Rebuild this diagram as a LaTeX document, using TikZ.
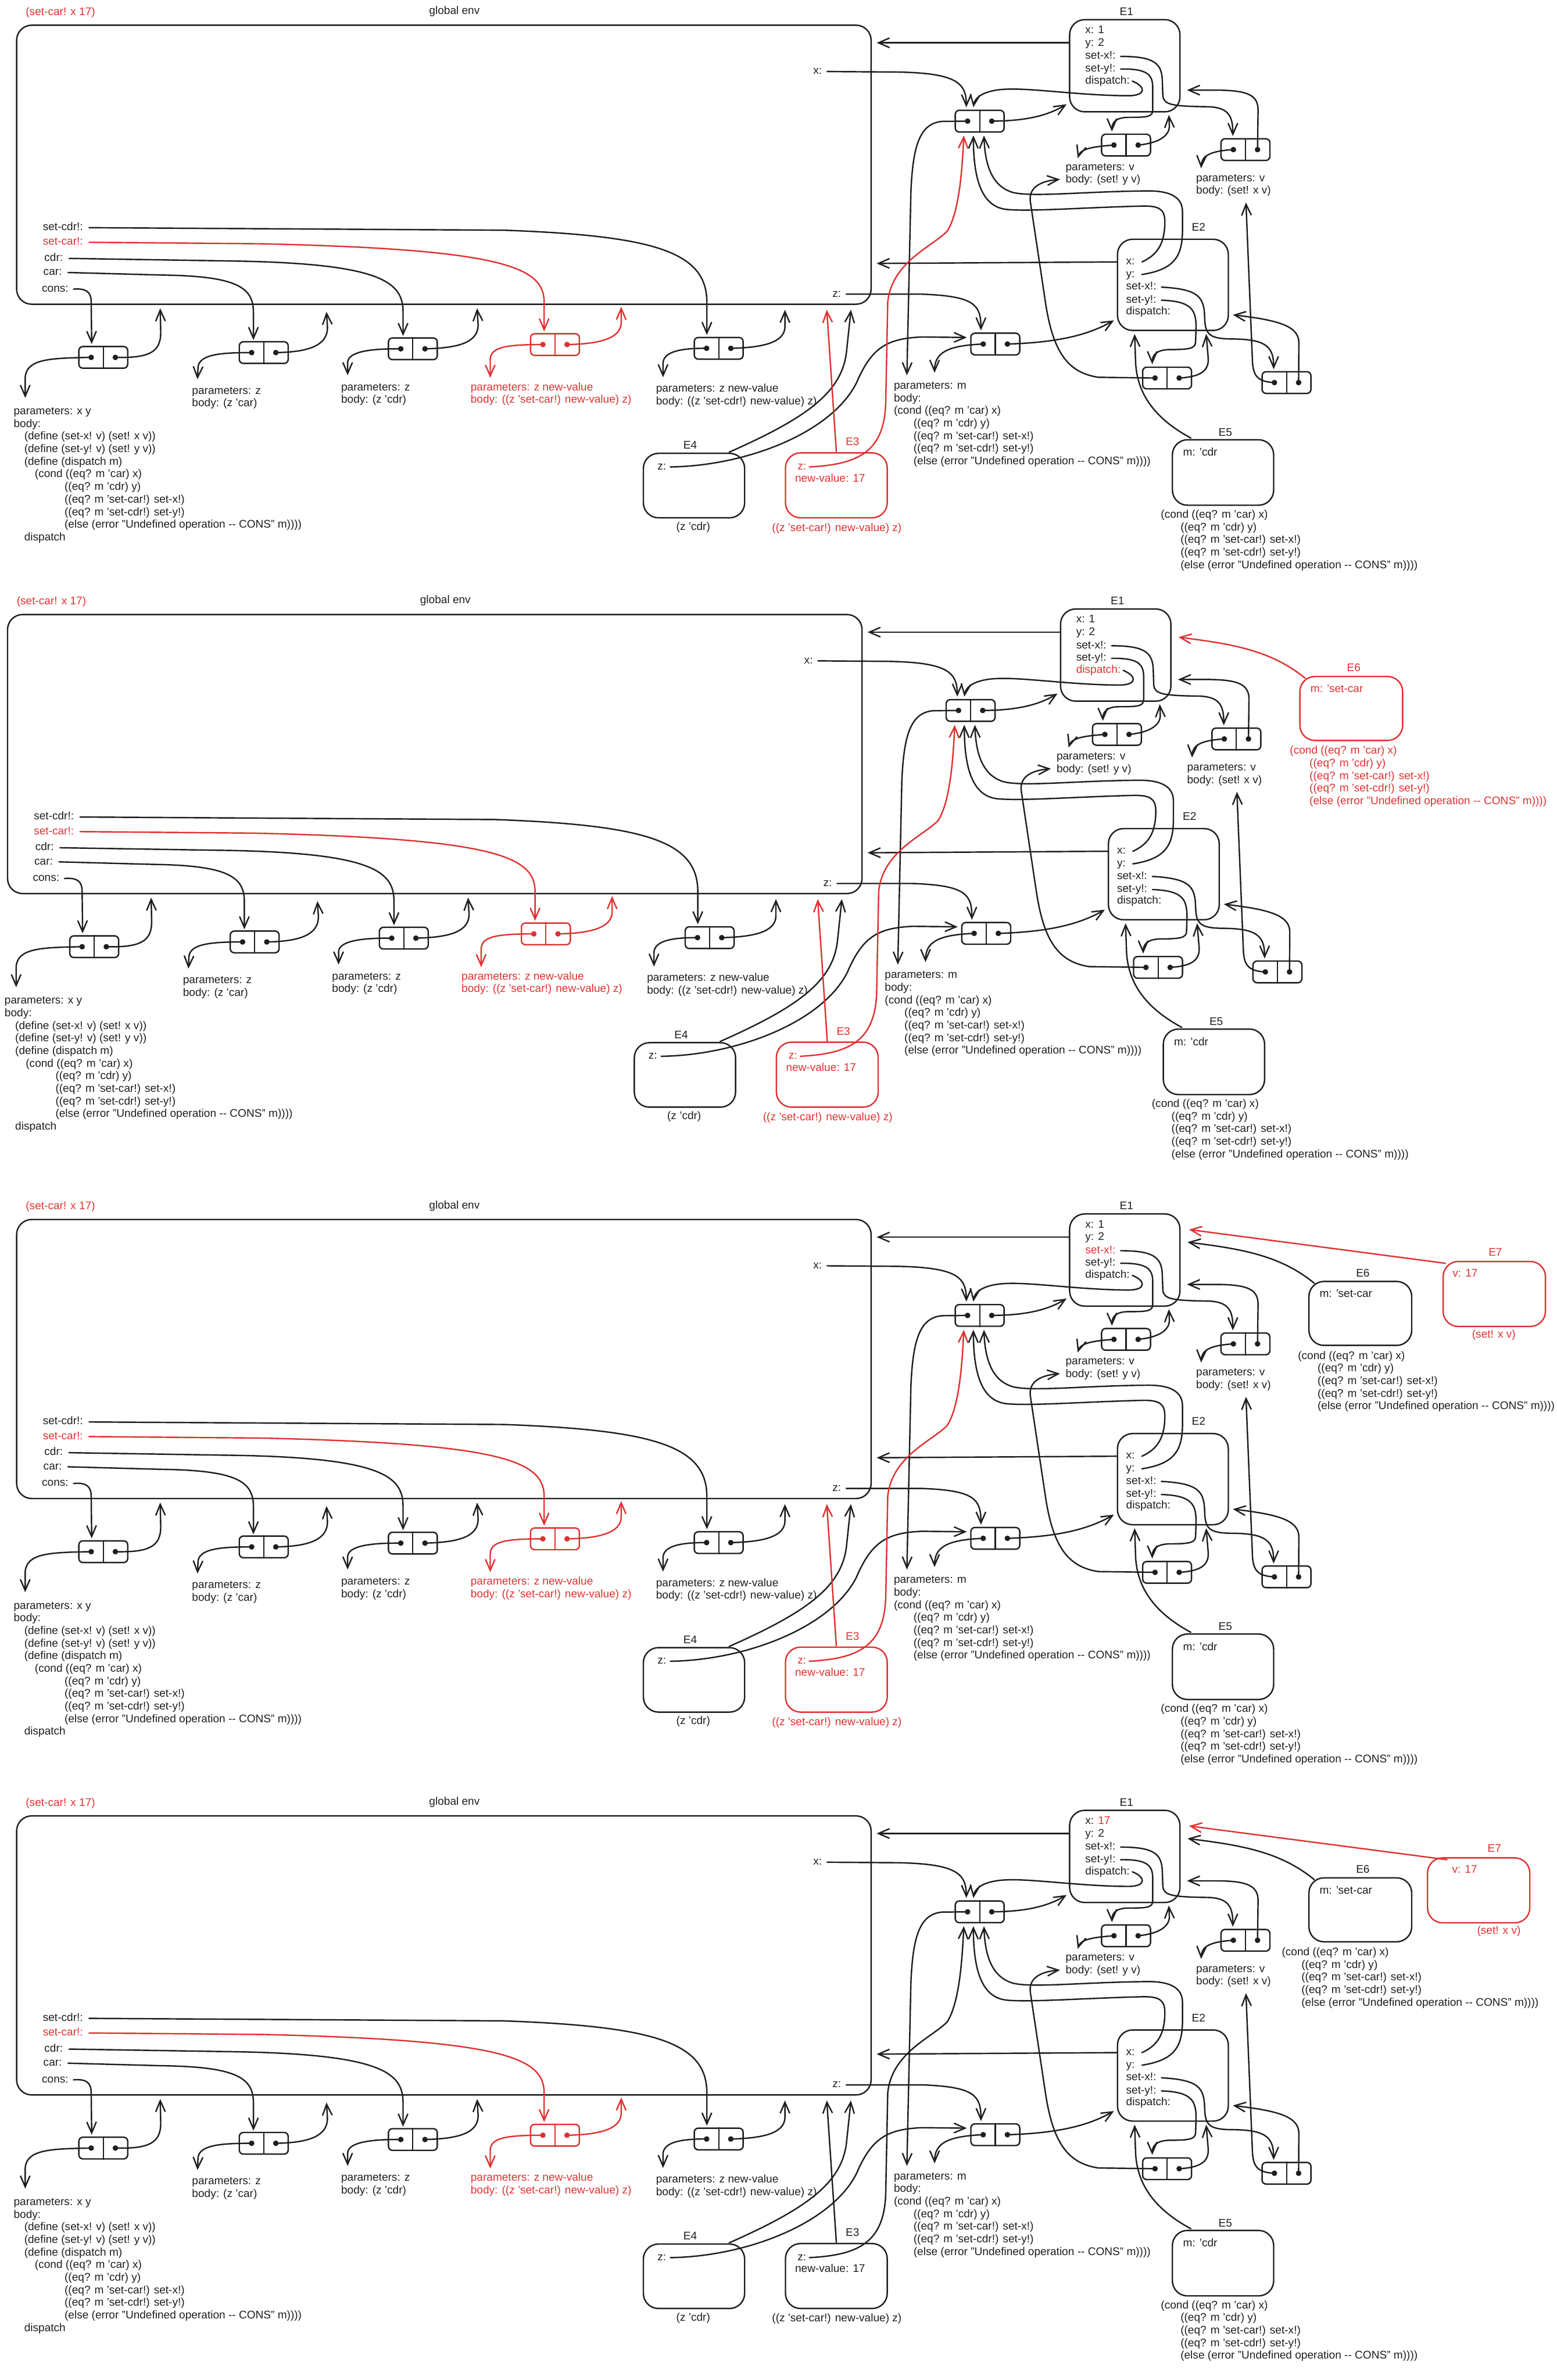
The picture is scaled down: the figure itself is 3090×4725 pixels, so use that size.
\documentclass[tikz,border=0pt]{standalone}
\usepackage{fontspec}
\setmainfont{Liberation Sans}
\usetikzlibrary{arrows.meta}
\definecolor{ink}{HTML}{1E1E1E}
\definecolor{rd}{HTML}{E03131}
\colorlet{cE3}{rd}\colorlet{cE6}{rd}\colorlet{cDisp}{ink}\colorlet{cSx}{ink}
\newif\ifEsix \newif\ifEseven \newif\ifXs
\newcommand\fs{\fontsize{22}{25}\selectfont}
\newcommand\sr{\rule{0pt}{16pt}}
\tikzset{
 ln/.style={line width=2.8pt, line cap=round, line join=round, draw=ink},
 arr/.style={ln, -{Straight Barb[length=22pt,width=19pt]}},
 envbox/.style={draw=ink, line width=2.8pt, rounded corners=30pt, inner sep=0pt},
 pairbox/.style={draw, line width=2.8pt, rounded corners=8pt, minimum width=97pt, minimum height=43pt, inner sep=0pt},
 txt/.style={font=\fs, inner sep=0pt, align=left, anchor=north west, text=ink},
 lbl/.style={font=\fs, inner sep=0pt, text height=16pt, text depth=5pt, text=ink},
}
\newcommand\pairat[4]{%
 \node[pairbox, draw=#4] (#1) at (#2,#3) {};
 \draw[line width=2.4pt, draw=#4] (#1.north) -- (#1.south);
 \coordinate (#1-l) at ([xshift=-24pt]#1.center);
 \coordinate (#1-r) at ([xshift=24pt]#1.center);
 \fill[#4] (#1-l) circle (5.5pt);
 \fill[#4] (#1-r) circle (5.5pt);
}
\newcommand\condtext{(cond ((eq? m 'car) x)\\\hspace*{39pt}((eq? m 'cdr) y)\\\hspace*{39pt}((eq? m 'set-car!) set-x!)\\\hspace*{39pt}((eq? m 'set-cdr!) set-y!)\\\hspace*{39pt}(else (error "Undefined operation -{}- CONS" m))))}
\newcommand\panel[1]{%
% ---------------- global env
\node[envbox, minimum width=1696pt, minimum height=554pt] (#1-G) at (881,327) {};
\node[lbl, text=rd, anchor=west] (#1-title) at (51,25) {(set-car! x 17)};
\node[lbl] (#1-gl) at (902,23) {global env};
\node[lbl, anchor=west] (#1-lsc) at (85,452) {set-cdr!:};
\node[lbl, anchor=west, text=rd] (#1-lsa) at (85,481) {set-car!:};
\node[lbl, anchor=west] (#1-lcd) at (88,513) {cdr:};
\node[lbl, anchor=west] (#1-lca) at (86,541) {car:};
\node[lbl, anchor=west] (#1-lco) at (83,574) {cons:};
\node[lbl, anchor=west] (#1-lx) at (1614,142) {x:};
\node[lbl, anchor=west] (#1-lz) at (1652,584) {z:};
% ---------------- E1
\node[envbox, minimum width=219pt, minimum height=183pt] (#1-E1) at (2232.5,130.5) {};
\node[lbl] (#1-E1n) at (2236,25) {E1};
\node[lbl, anchor=west] (#1-Le1x) at (2154,61) {x: \ifXs\textcolor{rd}{17}\else 1\fi};
\node[lbl, anchor=west] (#1-Le1y) at (2154,86) {y: 2};
\node[lbl, anchor=west, text=cSx] (#1-Le1sx) at (2154,112) {set-x!:};
\node[lbl, anchor=west] (#1-Le1sy) at (2154,137) {set-y!:};
\node[lbl, anchor=west, text=cDisp] (#1-Le1d) at (2154,161) {dispatch:};
% ---------------- E2
\node[envbox, minimum width=220pt, minimum height=181pt] (#1-E2) at (2328,565.5) {};
\node[lbl] (#1-E2n) at (2379,453) {E2};
\node[lbl, anchor=west] (#1-Le2x) at (2235,520) {x:};
\node[lbl, anchor=west] (#1-Le2y) at (2235,545) {y:};
\node[lbl, anchor=west] (#1-Le2sx) at (2235,570) {set-x!:};
\node[lbl, anchor=west] (#1-Le2sy) at (2235,596) {set-y!:};
\node[lbl, anchor=west] (#1-Le2d) at (2235,619) {dispatch:};
% ---------------- E3, E4, E5
\node[envbox, draw=cE3, minimum width=202pt, minimum height=129pt] (#1-E3) at (1660,963.5) {};
\node[lbl, text=cE3] (#1-E3n) at (1692,879) {E3};
\node[lbl, anchor=west, text=cE3] (#1-Le3z) at (1583,927) {z:};
\node[lbl, anchor=west, text=cE3] (#1-Le3v) at (1578,951) {new-value: 17};
\node[lbl, text=cE3] (#1-Le3b) at (1661,1049) {((z 'set-car!) new-value) z)};
\node[envbox, minimum width=201pt, minimum height=128pt] (#1-E4) at (1377.5,964) {};
\node[lbl] (#1-E4n) at (1370,886) {E4};
\node[lbl, anchor=west] (#1-Le4z) at (1305,927) {z:};
\node[lbl] (#1-Le4b) at (1376,1047) {(z 'cdr)};
\node[envbox, minimum width=201pt, minimum height=130pt] (#1-E5) at (2427.5,938) {};
\node[lbl] (#1-E5n) at (2432,860) {E5};
\node[lbl, anchor=west] (#1-Le5m) at (2348,900) {m: 'cdr};
\node[txt] (#1-Te5) at (2304,1012) {\sr\condtext};
% ---------------- pairs
\pairat{#1-Pco}{205}{709.5}{ink}
\pairat{#1-Pca}{523.5}{700}{ink}
\pairat{#1-Pcd}{819.5}{692.5}{ink}
\pairat{#1-Psa}{1101.5}{684}{rd}
\pairat{#1-Psc}{1426.5}{691.5}{ink}
\pairat{#1-Px}{1944.5}{240.5}{ink}
\pairat{#1-Pz}{1975.5}{683}{ink}
\pairat{#1-P1y}{2235}{288}{ink}
\pairat{#1-P1x}{2472}{297}{ink}
\pairat{#1-P2y}{2316.5}{750.5}{ink}
\pairat{#1-P2x}{2553.5}{759.5}{ink}
% ---------------- procedure texts
\node[txt] (#1-Tco) at (27,807) {\sr parameters: x y\\body:\\\hspace*{21pt}(define (set-x! v) (set! x v))\\\hspace*{21pt}(define (set-y! v) (set! y v))\\\hspace*{21pt}(define (dispatch m)\\\hspace*{42pt}(cond ((eq? m 'car) x)\\\hspace*{101pt}((eq? m 'cdr) y)\\\hspace*{101pt}((eq? m 'set-car!) set-x!)\\\hspace*{101pt}((eq? m 'set-cdr!) set-y!)\\\hspace*{101pt}(else (error "Undefined operation -{}- CONS" m))))\\\hspace*{21pt}dispatch};
\node[txt] (#1-Tca) at (381,766) {\sr parameters: z\\body: (z 'car)};
\node[txt] (#1-Tcd) at (677,759) {\sr parameters: z\\body: (z 'cdr)};
\node[txt, text=rd] (#1-Tsa) at (934,759) {\sr parameters: z new-value\\body: ((z 'set-car!) new-value) z)};
\node[txt] (#1-Tsc) at (1302,762) {\sr parameters: z new-value\\body: ((z 'set-cdr!) new-value) z)};
\node[txt] (#1-Tm) at (1774,756) {\sr parameters: m\\body:\\\condtext};
\node[txt] (#1-T1y) at (2115,322) {\sr parameters: v\\body: (set! y v)};
\node[txt] (#1-T1x) at (2374,344) {\sr parameters: v\\body: (set! x v)};
% ---------------- global bindings
\draw[arr] ([xshift=10pt]#1-lco.east) .. controls (172,572) and (181,580) .. (181,600) -- (182,683);
\draw[arr] ([xshift=12pt]#1-lca.east) -- (320,546) .. controls (470,548) and (503,570) .. (503,620) -- (503,675);
\draw[arr] ([xshift=12pt]#1-lcd.east) -- (450,518) .. controls (760,522) and (800,560) .. (800,620) -- (800,667);
\draw[arr, draw=rd] ([xshift=12pt]#1-lsa.east) -- (520,484) .. controls (1000,495) and (1080,530) .. (1080,600) -- (1080,658);
\draw[arr] ([xshift=12pt]#1-lsc.east) -- (1000,457) .. controls (1300,468) and (1403,500) .. (1403,600) -- (1403,665);
\draw[arr] ([xshift=10pt]#1-lx.east) -- (1780,143) .. controls (1900,145) and (1918,165) .. (1918,213);
\draw[arr] ([xshift=10pt]#1-lz.east) -- (1830,584) .. controls (1935,588) and (1947,605) .. (1947,656);
% ---------------- procedure pairs
\draw[arr] (#1-Pco-r) .. controls (295,711) and (319,700) .. (319,660) -- (318,612);
\draw[arr] (#1-Pca-r) .. controls (615,699) and (650,685) .. (650,650) -- (648,619);
\draw[arr] (#1-Pcd-r) .. controls (910,691) and (949,680) .. (949,645) -- (947,612);
\draw[arr, draw=rd] (#1-Psa-r) .. controls (1195,683) and (1233,670) .. (1233,640) -- (1233,609);
\draw[arr] (#1-Psc-r) .. controls (1515,690) and (1558,680) .. (1558,648) -- (1558,615);
\draw[arr] (#1-Pco-l) .. controls (100,711) and (52,712) .. (50,750) -- (50,790);
\draw[arr] (#1-Pca-l) .. controls (440,700) and (394,703) .. (393,730) -- (392,753);
\draw[arr] (#1-Pcd-l) .. controls (740,692) and (690,697) .. (690,720) -- (690,745);
\draw[arr, draw=rd] (#1-Psa-l) .. controls (1000,684) and (973,690) .. (973,715) -- (973,750);
\draw[arr] (#1-Psc-l) .. controls (1345,691) and (1316,700) .. (1316,722) -- (1316,749);
% ---------------- parents to global
\draw[arr] (#1-E1.west |- 0,85) -- (1740,85);
\draw[arr] (#1-E2.west |- 0,520) -- (1740,523);
% ---------------- E1 internals
\draw[arr] ([xshift=5pt]#1-Le1d.east) .. controls (2275,172) and (2275,190) .. (2240,190) .. controls (2150,190) and (2050,175) .. (2000,177) .. controls (1960,178) and (1935,190) .. (1932,213);
\draw[arr] (#1-Px-r) .. controls (2030,240) and (2075,232) .. (2117,207);
\draw[arr] ([xshift=10pt]#1-Le1sx.east) .. controls (2290,112) and (2306,125) .. (2307,160) -- (2308,190) .. controls (2310,208) and (2325,211) .. (2400,212) .. controls (2440,214) and (2447,232) .. (2447,270);
\draw[arr] ([xshift=10pt]#1-Le1sy.east) .. controls (2280,136) and (2288,150) .. (2288,175) -- (2288,218) .. controls (2288,232) and (2278,233) .. (2240,233) .. controls (2215,233) and (2207,243) .. (2207,261);
\draw[arr] (#1-P1y-r) .. controls (2300,284) and (2321,270) .. (2321,250) -- (2320,228);
\draw[arr] (#1-P1y-l) .. controls (2170,291) and (2145,295) .. (2139,314);
\draw[arr] (#1-P1x-r) -- (2497,220) .. controls (2498,188) and (2475,180) .. (2420,179) -- (2356,179);
\draw[arr] (#1-P1x-l) .. controls (2400,300) and (2385,310) .. (2384,334);
% ---------------- E2 internals
\draw[arr] ([xshift=14pt]#1-Le2x.east) .. controls (2300,505) and (2312,480) .. (2312,440) .. controls (2312,415) and (2300,409) .. (2270,409) .. controls (2150,412) and (2050,420) .. (2000,416) .. controls (1950,412) and (1932,360) .. (1932,269);
\draw[arr] ([xshift=14pt]#1-Le2y.east) .. controls (2330,535) and (2346,510) .. (2347,460) -- (2347,420) .. controls (2347,390) and (2320,379) .. (2280,379) .. controls (2150,380) and (2050,392) .. (2010,382) .. controls (1970,370) and (1955,330) .. (1953,269);
\draw[arr] (#1-Pz-r) .. controls (2100,680) and (2160,665) .. (2211,636);
\draw[arr] (#1-Pz-l) .. controls (1880,686) and (1855,700) .. (1855,740);
\draw[arr] (#1-Px-l) -- (1870,241) .. controls (1825,245) and (1812,290) .. (1808,380) -- (1800,745);
\draw[arr] ([xshift=10pt]#1-Le2sx.east) .. controls (2380,574) and (2390,590) .. (2391,630) .. controls (2392,665) and (2400,673) .. (2450,673) .. controls (2515,674) and (2528,690) .. (2528,733);
\draw[arr] ([xshift=10pt]#1-Le2sy.east) .. controls (2365,598) and (2374,615) .. (2374,650) -- (2373,680) .. controls (2372,692) and (2360,694) .. (2320,694) .. controls (2295,695) and (2287,705) .. (2287,723);
\draw[arr] (#1-P2y-r) .. controls (2385,748) and (2400,735) .. (2398,710) -- (2394,663);
\draw[arr] (#1-P2y-l) -- (2180,749) .. controls (2120,740) and (2090,700) .. (2075,600) -- (2045,400) .. controls (2042,375) and (2060,360) .. (2104,356);
\draw[arr] (#1-P2x-r) -- (2578,680) .. controls (2578,645) and (2530,635) .. (2447,625);
\draw[arr] (#1-P2x-l) .. controls (2495,758) and (2488,745) .. (2486,720) -- (2473,402);
% ---------------- E3, E4, E5 pointers
\draw[arr] (#1-E5.north west) ++(38,-2) .. controls (2290,830) and (2257,780) .. (2254,720) -- (2252,663);
\draw[arr] (#1-E4.north east) ++(-32,-1) .. controls (1600,830) and (1670,780) .. (1680,700) -- (1689,615);
\draw[arr] ([xshift=8pt]#1-Le4z.east) .. controls (1480,925) and (1650,860) .. (1700,760) .. controls (1730,690) and (1760,672) .. (1830,669) -- (1919,670);
\draw[arr, draw=cE3] (#1-E3.north) ++(0,-1) -- (1641,615);
\draw[arr, draw=cE3] ([xshift=6pt]#1-Le3z.east) .. controls (1700,922) and (1755,900) .. (1758,800) -- (1762,600) .. controls (1770,520) and (1850,490) .. (1880,459) .. controls (1905,420) and (1910,330) .. (1913,269);
% ---------------- E6
\ifEsix
\node[envbox, draw=cE6, minimum width=204pt, minimum height=127pt] (#1-E6) at (2700,236.5) {};
\node[lbl, text=cE6] (#1-E6n) at (2705,158) {E6};
\node[lbl, anchor=west, text=cE6] (#1-Le6m) at (2619,199) {m: 'set-car};
\node[txt, text=cE6] (#1-Te6) at (\EsixTx,311) {\sr\condtext};
\draw[arr, draw=cE6] (#1-E6.north west) ++(12,5) .. controls (2540,120) and (2460,108) .. (2357,95);
\fi
% ---------------- E7
\ifEseven
\node[envbox, draw=rd, minimum width=203pt, minimum height=129pt, anchor=north west] (#1-E7) at (\EsevenX,132) {};
\node[lbl, text=rd] (#1-E7n) at (\EsevenLx,117) {E7};
\node[lbl, anchor=west, text=rd] (#1-Le7v) at (\EsevenVx,158) {v: 17};
\node[lbl, text=rd] (#1-Le7b) at (\EsevenBx,279) {(set! x v)};
\draw[arr, draw=rd] (\EsevenAx,137) coordinate (#1-E7a) -- (2360,70);
\fi
}
\begin{document}
\begin{tikzpicture}[x=1pt,y=-1pt]
\fill[white] (0,0) rectangle (3090,4725);
\useasboundingbox (0,0) rectangle (3090,4725);
\colorlet{cE3}{rd}\colorlet{cDisp}{ink}\colorlet{cSx}{ink}\Esixfalse\Esevenfalse\Xsfalse
\panel{A}
\begin{scope}[shift={(-18,1170)}]
\colorlet{cDisp}{rd}\colorlet{cE6}{rd}\Esixtrue\def\EsixTx{2578}
\panel{B}
\end{scope}
\begin{scope}[shift={(0,2371)}]
\colorlet{cSx}{rd}\colorlet{cE6}{ink}\Esixtrue\Eseventrue\def\EsixTx{2576}
\def\EsevenX{2863}\def\EsevenLx{2968}\def\EsevenVx{2883}\def\EsevenBx{2965}\def\EsevenAx{2869}
\panel{C}
\end{scope}
\begin{scope}[shift={(0,3555)}]
\colorlet{cE3}{ink}\colorlet{cE6}{ink}\Esixtrue\Eseventrue\Xstrue\def\EsixTx{2544}
\def\EsevenX{2832}\def\EsevenLx{2966}\def\EsevenVx{2882}\def\EsevenBx{2975}\def\EsevenAx{2872}
\panel{D}
\end{scope}
\end{tikzpicture}
\end{document}
